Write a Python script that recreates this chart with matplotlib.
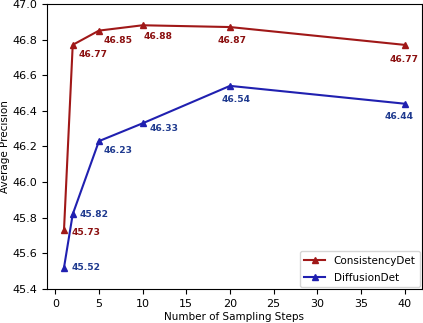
import matplotlib.pyplot as plt

# Sampling steps vs AP
steps = [1, 2, 5, 10, 20, 40]
consistency_ap = [45.73, 46.77, 46.85, 46.88, 46.87, 46.77]
diffusion_ap = [45.52, 45.82, 46.23, 46.33, 46.54, 46.44]

# label offsets (points) and alignment for each annotation
cons_offsets = [(5.5, -1.5, 'left'), (4.3, -7.2, 'left'), (3.6, -7.2, 'left'),
                (0.7, -7.9, 'left'), (1.8, -10, 'center'), (-0.5, -10.8, 'center')]
diff_offsets = [(5.5, 0, 'left'), (5, 0, 'left'), (3.6, -6.5, 'left'),
                (5, -3.6, 'left'), (4.3, -10, 'center'), (-4.3, -9.4, 'center')]

red_line, red_text = '#a01818', '#8b1010'
blue_line, blue_text = '#2020b0', '#1f3a8f'

fig = plt.figure(figsize=(4.23, 3.23), dpi=100)
ax = fig.add_axes([0.111, 0.105, 0.886, 0.883])

ax.plot(steps, consistency_ap, marker='^', color=red_line, lw=1.5, ms=5,
        label='ConsistencyDet')
ax.plot(steps, diffusion_ap, marker='^', color=blue_line, lw=1.5, ms=5,
        label='DiffusionDet')

for x, y, (dx, dy, ha) in zip(steps, consistency_ap, cons_offsets):
    ax.annotate(f'{y:.2f}', (x, y), xytext=(dx, dy), textcoords='offset points',
                ha=ha, va='center', color=red_text, fontsize=6.6, fontweight='bold')
for x, y, (dx, dy, ha) in zip(steps, diffusion_ap, diff_offsets):
    ax.annotate(f'{y:.2f}', (x, y), xytext=(dx, dy), textcoords='offset points',
                ha=ha, va='center', color=blue_text, fontsize=6.6, fontweight='bold')

ax.set_ylim(45.4, 47.0)
ax.set_xticks([0, 5, 10, 15, 20, 25, 30, 35, 40])
ax.tick_params(labelsize=8)
ax.set_xlabel('Number of Sampling Steps', fontsize=7.5, labelpad=2)
ax.set_ylabel('Average Precision', fontsize=7.5, labelpad=2)
ax.legend(loc='lower right', fontsize=7.5, borderaxespad=0.2, labelspacing=0.7)

fig.savefig('out.png', dpi=100)
